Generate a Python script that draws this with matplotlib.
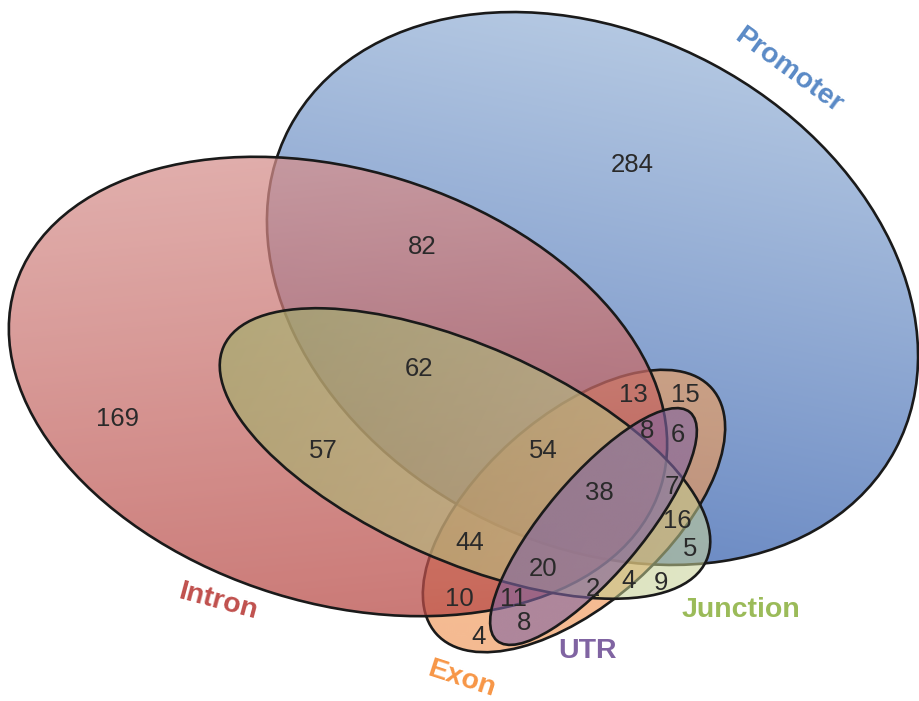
import numpy as np
import matplotlib
matplotlib.use("Agg")
import matplotlib.pyplot as plt
from matplotlib.patches import Ellipse

# five sets, drawn bottom to top
SETS = ["Promoter", "Exon", "Intron", "Junction", "UTR"]
SET_LABEL_COLORS = ["#5a8ac6", "#f79646", "#c0504d", "#9bbb59", "#8064a2"]

# region counts as printed in the diagram
REGION_COUNTS = [284, 82, 169, 62, 57, 54, 13, 15, 8, 6, 38, 7, 16, 5,
                 44, 20, 2, 4, 9, 10, 11, 8, 4]

W, H = 919, 701
INK = "#2a2a2a"

# ellipse geometry in pixel coords (y downwards): cx, cy, width, height, angle
SHAPES = {
    "Promoter": (592.5, 288.5, 686, 509, 28.0),
    "Intron": (338, 386.5, 676, 433, 17.2),
    "Junction": (465, 453.5, 528, 215, 23.9),
    "Exon": (574, 511, 369, 187, -41.7),
    "UTR": (593.5, 526.5, 299, 97, -49.8),
}

# fill: start colour, end colour, gradient direction (pixel coords), alpha
FILLS = {
    "Promoter": ((180, 200, 226), (108, 139, 196), (-0.2, 1.0), 1.0),
    "Exon": ((247, 160, 85), (238, 140, 72), (0.0, 1.0), 0.6),
    "Intron": ((214, 145, 142), (184, 74, 70), (0.1, 1.0), 0.74),
    "Junction": ((150, 178, 98), (200, 210, 150), (0.9, 0.45), 0.55),
    "UTR": ((128, 100, 162), (128, 100, 162), (0.0, 1.0), 0.6),
}

REGION_POS = [(632, 162), (422, 245), (118, 417), (419, 367), (323, 449),
              (543, 448), (633, 393), (685, 392), (647, 429), (678, 432),
              (599, 490), (672, 485), (677, 519), (690, 547), (470, 541),
              (543, 567), (593, 587), (629, 579), (661, 580), (459, 597),
              (513, 597), (524, 621), (479, 635)]

SET_LABEL_POS = {
    "Promoter": (788, 71, -36),
    "Intron": (218, 602, -15),
    "Junction": (741, 610, 0),
    "Exon": (461, 679, -18),
    "UTR": (588, 651, 0),
}


def gradient_fill(ax, name, zorder):
    cx, cy, w, h, ang = SHAPES[name]
    c0, c1, d, alpha = FILLS[name]
    r = max(w, h) / 2 + 2
    x0, x1, y0, y1 = cx - r, cx + r, cy - r, cy + r
    n = 300
    X, Y = np.meshgrid(np.linspace(x0, x1, n), np.linspace(y0, y1, n))
    d = np.asarray(d, float)
    d /= np.linalg.norm(d)
    # project onto the gradient direction, normalised over the ellipse extent
    t_ang = np.deg2rad(ang)
    a, b = w / 2, h / 2
    ux, uy = np.cos(t_ang), np.sin(t_ang)
    ext = np.hypot(a * (ux * d[0] + uy * d[1]), b * (-uy * d[0] + ux * d[1]))
    t = ((X - cx) * d[0] + (Y - cy) * d[1]) / (2 * ext) + 0.5
    t = np.clip(t, 0, 1)[..., None]
    rgb = (np.array(c0) * (1 - t) + np.array(c1) * t) / 255.0
    rgba = np.concatenate([rgb, np.full(t.shape, alpha)], axis=-1)
    im = ax.imshow(rgba, extent=(x0, x1, y1, y0), origin="upper",
                   interpolation="bilinear", zorder=zorder, aspect="auto")
    clip = Ellipse((cx, cy), w, h, angle=ang, transform=ax.transData)
    im.set_clip_path(clip)
    ax.add_patch(Ellipse((cx, cy), w, h, angle=ang, fill=False,
                         edgecolor="#1a1a1a", linewidth=1.9, zorder=zorder + 0.5))


fig = plt.figure(figsize=(W / 100, H / 100), dpi=100)
ax = fig.add_axes([0, 0, 1, 1])
ax.set_xlim(0, W)
ax.set_ylim(H, 0)
ax.axis("off")

for i, name in enumerate(SETS):
    gradient_fill(ax, name, zorder=2 + 2 * i)

for count, (x, y) in zip(REGION_COUNTS, REGION_POS):
    ax.text(x, y, str(count), ha="center", va="center_baseline", fontsize=18.5,
            color=INK, family="Liberation Sans", zorder=20)

for name, color in zip(SETS, SET_LABEL_COLORS):
    x, y, rot = SET_LABEL_POS[name]
    ax.text(x, y, name, ha="center", va="center", rotation=rot,
            rotation_mode="anchor", fontsize=20.5, fontweight="bold",
            color=color, family="Liberation Sans", zorder=20)

fig.savefig("out.png", dpi=100)
